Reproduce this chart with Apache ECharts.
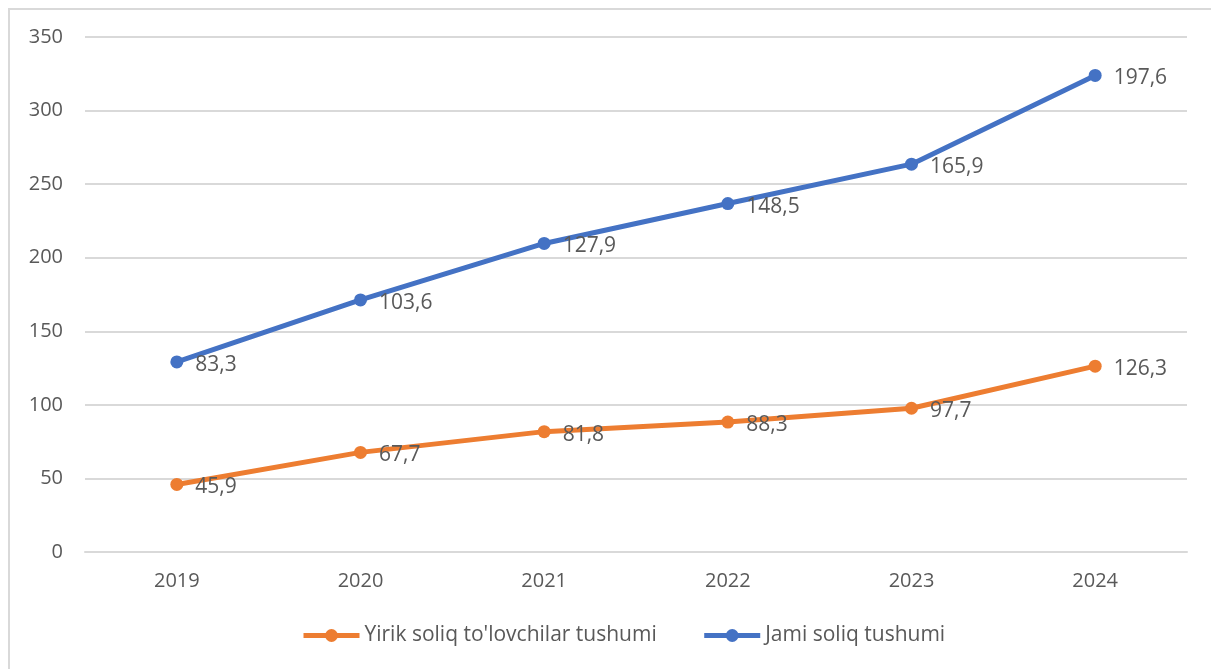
<!DOCTYPE html>
<html>
<head>
<meta charset="utf-8">
<script src="https://cdn.jsdelivr.net/npm/echarts@6/dist/echarts.min.js"></script>
<style>
  html, body { margin: 0; padding: 0; background: #fff; }
  #chart { width: 1211px; height: 669px; }
</style>
</head>
<body>
<div id="chart"></div>
<script>
const years = ['2019', '2020', '2021', '2022', '2023', '2024']
const yirikValues = [45.9, 67.7, 81.8, 88.3, 97.7, 126.3]
const jamiValues = [83.3, 103.6, 127.9, 148.5, 165.9, 197.6]
const seriesNames = ["Yirik soliq to'lovchilar tushumi", 'Jami soliq tushumi']

const myChart = echarts.init(document.getElementById('chart'))
const font = '"Open Sans", sans-serif'

const labelStyle = {
  show: true,
  position: 'right',
  distance: 12,
  offset: [0, 3],
  color: '#595959',
  fontSize: 21,
  fontFamily: font,
  formatter: p => String(p.value).replace('.', ',')
}

const option = {
  animation: false,
  backgroundColor: '#fff',
  graphic: [{
    type: 'polyline',
    shape: { points: [[9, 700], [9, 9], [1220, 9]] },
    style: { stroke: '#d9d9d9', lineWidth: 2, fill: null }
  }],
  grid: { left: 85, right: 24, top: 37, bottom: 117 },
  legend: {
    top: 620,
    left: 296,
    itemWidth: 56,
    itemHeight: 16,
    itemGap: 45,
    lineStyle: { width: 5 },
    textStyle: { color: '#595959', fontSize: 21, fontFamily: font },
    data: seriesNames
  },
  xAxis: {
    type: 'category',
    data: years,
    boundaryGap: true,
    axisLine: { lineStyle: { color: '#d9d9d9', width: 2 } },
    axisTick: { show: false },
    axisLabel: { color: '#595959', fontSize: 20, fontFamily: font, margin: 19 }
  },
  yAxis: {
    type: 'value',
    min: 0,
    max: 350,
    interval: 50,
    axisLine: { show: false },
    axisTick: { show: false },
    axisLabel: { color: '#595959', fontSize: 20, fontFamily: font, margin: 22 },
    splitLine: { lineStyle: { color: '#d9d9d9', width: 2 } }
  },
  series: [
    {
      name: seriesNames[0],
      type: 'line',
      stack: 'total',
      data: yirikValues,
      symbol: 'circle',
      symbolSize: 13,
      lineStyle: { width: 5, color: '#ed7d31' },
      itemStyle: { color: '#ed7d31' },
      label: labelStyle
    },
    {
      name: seriesNames[1],
      type: 'line',
      stack: 'total',
      data: jamiValues,
      symbol: 'circle',
      symbolSize: 13,
      lineStyle: { width: 5, color: '#4472c4' },
      itemStyle: { color: '#4472c4' },
      label: labelStyle
    }
  ]
}

myChart.setOption(option)
</script>
</body>
</html>
